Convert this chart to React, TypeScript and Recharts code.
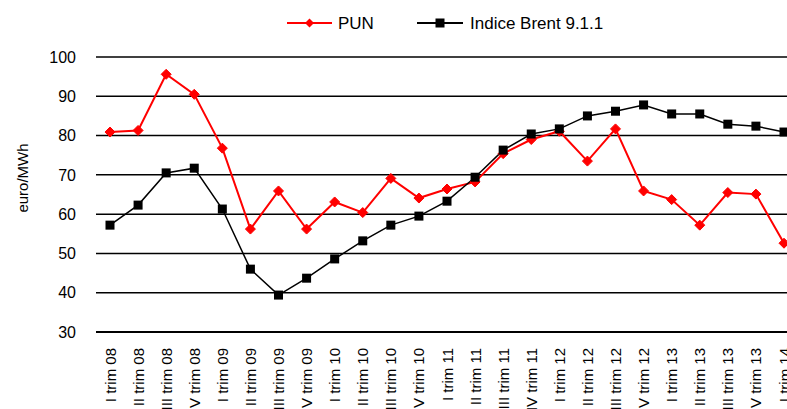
import React from "react";
import { LineChart, Line, XAxis, YAxis, CartesianGrid, Legend } from "recharts";

const categories = [
  "I trim 08", "II trim 08", "III trim 08", "IV trim 08",
  "I trim 09", "II trim 09", "III trim 09", "IV trim 09",
  "I trim 10", "II trim 10", "III trim 10", "IV trim 10",
  "I trim 11", "II trim 11", "III trim 11", "IV trim 11",
  "I trim 12", "II trim 12", "III trim 12", "IV trim 12",
  "I trim 13", "II trim 13", "III trim 13", "IV trim 13",
  "I trim 14",
];
const pun = [80.9, 81.3, 95.6, 90.5, 76.8, 56.2, 65.9, 56.2, 63.1, 60.4, 69.1, 64.1, 66.4, 68.2, 75.4, 79.0, 81.1, 73.5, 81.7, 65.9, 63.7, 57.2, 65.5, 65.1, 52.6];
const brent = [57.2, 62.3, 70.5, 71.7, 61.3, 46.0, 39.4, 43.7, 48.6, 53.2, 57.2, 59.5, 63.3, 69.4, 76.3, 80.4, 81.7, 85.0, 86.2, 87.8, 85.5, 85.5, 82.9, 82.4, 80.9];
const yTicks = [30, 40, 50, 60, 70, 80, 90, 100];
const seriesNames = { pun: "PUN", brent: "Indice Brent 9.1.1" };
const yLabel = "euro/MWh";

const data = categories.map((c, i) => ({ cat: c, pun: pun[i], brent: brent[i] }));

const FONT = "'Liberation Sans', Arial, sans-serif";

const Diamond = (props: any) => {
  const { cx, cy } = props;
  if (cx == null || cy == null) return null;
  const r = 5;
  return <polygon points={`${cx},${cy - r} ${cx + r},${cy} ${cx},${cy + r} ${cx - r},${cy}`} fill="#FF0000" stroke="#FF0000" strokeWidth={1} />;
};

const Square = (props: any) => {
  const { cx, cy } = props;
  if (cx == null || cy == null) return null;
  const s = 9;
  return <rect x={cx - s / 2} y={cy - s / 2} width={s} height={s} fill="#000" />;
};

const XTick = (props: any) => {
  const { x, payload } = props;
  const tx = x + 5.5;
  const ty = 348;
  return (
    <text x={tx} y={ty} transform={`rotate(-90 ${tx} ${ty})`} textAnchor="end" fontSize={15} fill="#000" fontFamily={FONT}>
      {payload.value}
    </text>
  );
};

const LegendContent = () => (
  <div style={{ position: "relative", width: 787, height: 26, fontFamily: FONT, fontSize: 17, color: "#000" }}>
    <svg width={787} height={26} style={{ position: "absolute", left: 0, top: 0 }}>
      <line x1={287} x2={332} y1={13} y2={13} stroke="#FF0000" strokeWidth={2} />
      <polygon points="309.5,8.5 314,13 309.5,17.5 305,13" fill="#FF0000" />
      <text x={338} y={19} fontSize={17} fontFamily={FONT}>{seriesNames.pun}</text>
      <line x1={417} x2={463} y1={13} y2={13} stroke="#000" strokeWidth={2} />
      <rect x={435.5} y={8.5} width={9} height={9} fill="#000" />
      <text x={470} y={19} fontSize={17} fontFamily={FONT}>{seriesNames.brent}</text>
    </svg>
  </div>
);

export default function App() {
  return (
    <div style={{ position: "absolute", left: 0, top: 0, width: 787, height: 409, overflow: "hidden", background: "#fff" }}>
      <LineChart width={800} height={420} data={data} margin={{ top: 57, right: 2, left: 0, bottom: 0 }}>
        <CartesianGrid vertical={false} stroke="#000" strokeWidth={1.5} />
        <XAxis
          dataKey="cat"
          interval={0}
          height={88}
          padding={{ left: 14, right: 14 }}
          tick={<XTick />}
          tickLine={false}
          tickSize={0}
          axisLine={{ stroke: "#000", strokeWidth: 2 }}
        />
        <YAxis
          domain={[30, 100]}
          ticks={yTicks}
          width={96}
          tickLine={false}
          axisLine={false}
          tickSize={0}
          tickMargin={20}
          tick={{ fontSize: 16, fill: "#000", fontFamily: FONT }}
          label={{
            content: () => (
              <text x={22} y={178} transform="rotate(-90 22 178)" textAnchor="middle" dominantBaseline="central" fontSize={15} fill="#000" fontFamily={FONT}>
                {yLabel}
              </text>
            ),
          }}
        />
        <Legend verticalAlign="middle" align="center" layout="horizontal" wrapperStyle={{ top: 10, left: 0, width: 787, height: 26 }} content={<LegendContent />} />
        <Line type="linear" dataKey="pun" name={seriesNames.pun} stroke="#FF0000" strokeWidth={2} dot={<Diamond />} activeDot={false} isAnimationActive={false} />
        <Line type="linear" dataKey="brent" name={seriesNames.brent} stroke="#000" strokeWidth={1.5} dot={<Square />} activeDot={false} isAnimationActive={false} />
      </LineChart>
    </div>
  );
}
